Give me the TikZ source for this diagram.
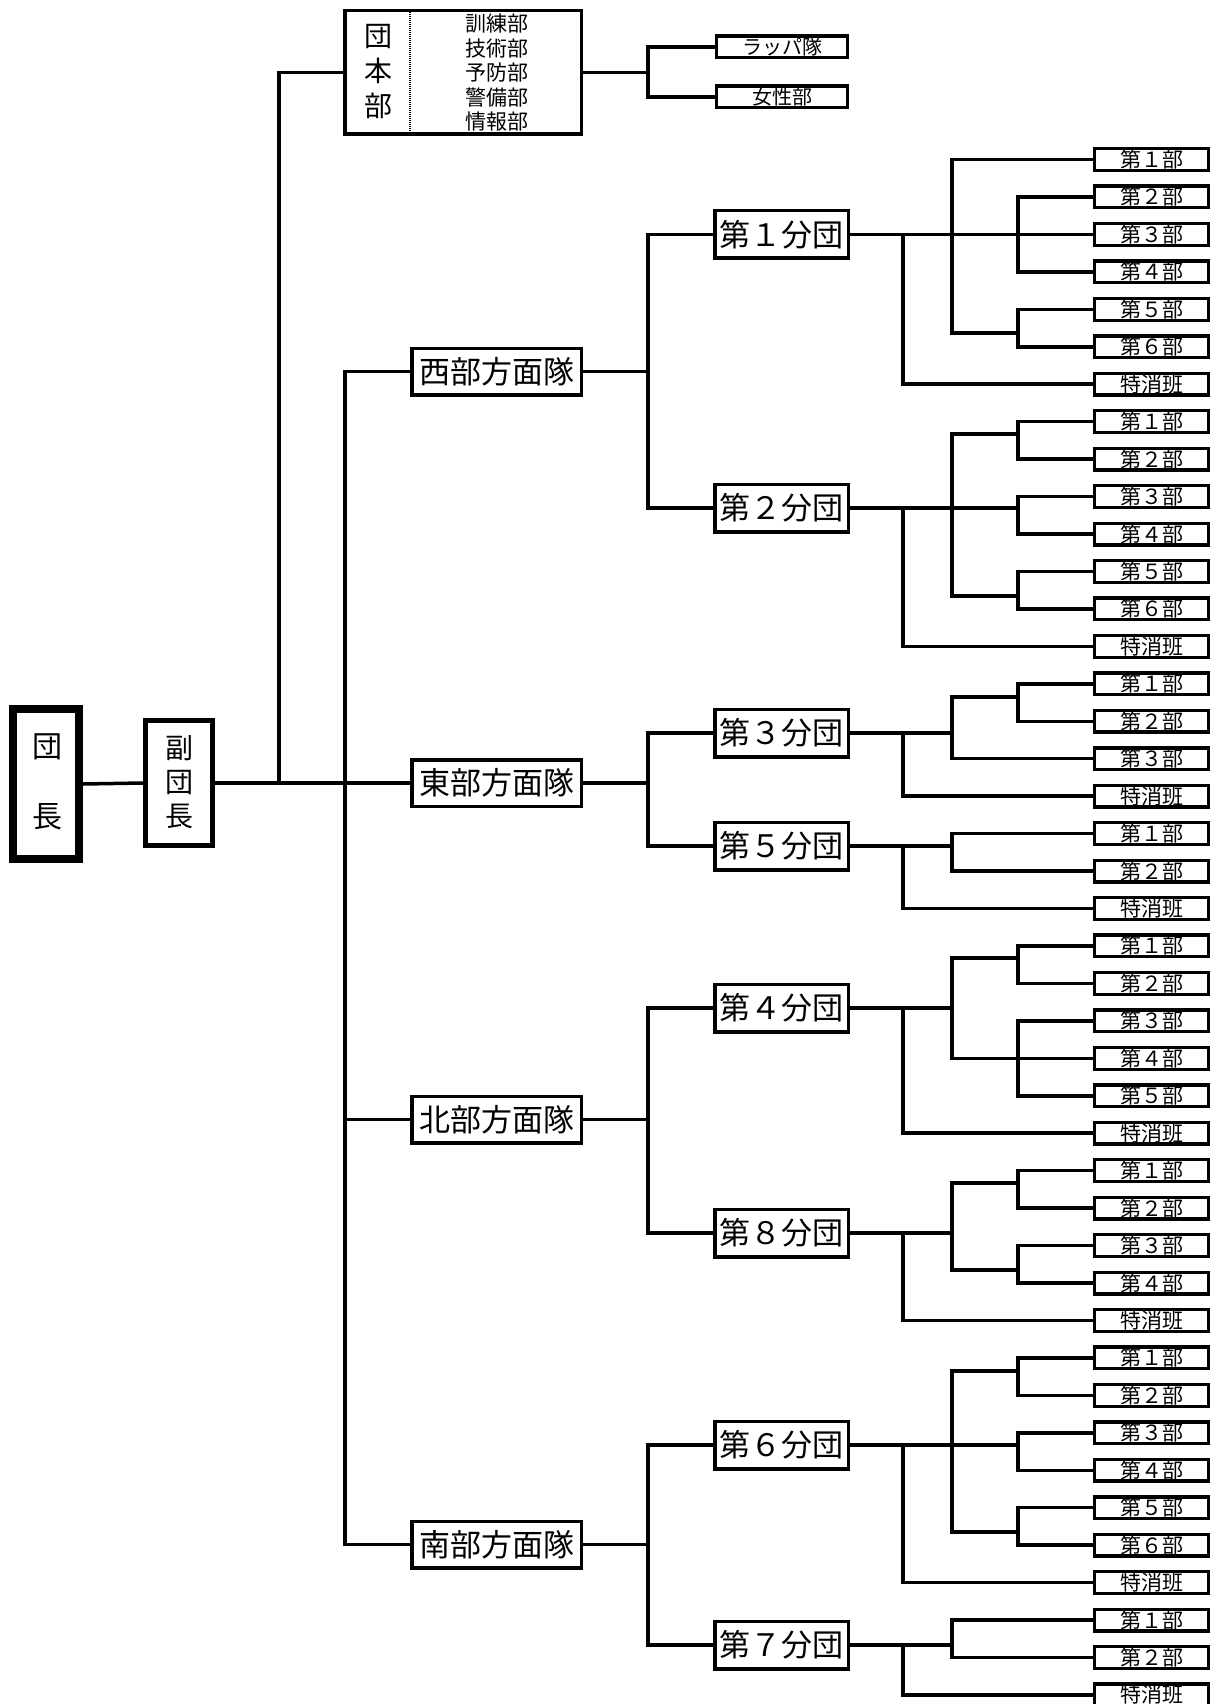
\documentclass[tikz,border=0pt]{standalone}
\usepackage{fontspec}
\setmainfont{Noto Sans CJK JP}
\begin{document}
\begin{tikzpicture}[x=1pt,y=-1pt,
  conn/.style={line width=3.5pt},
  leaf/.style={draw, line width=3.3pt, minimum width=113.7pt, minimum height=21.7pt, inner sep=0pt, font=\fontsize{21}{25}\selectfont},
  bunbox/.style={draw, line width=3.5pt, minimum width=133.5pt, minimum height=47.5pt, inner sep=0pt, font=\fontsize{31}{36}\selectfont},
  hobox/.style={draw, line width=3.5pt, minimum width=169.5pt, minimum height=46.5pt, inner sep=0pt, font=\fontsize{31}{36}\selectfont},
  smallbox/.style={draw, line width=3.3pt, minimum width=130.7pt, minimum height=21.7pt, inner sep=0pt, font=\fontsize{20}{24}\selectfont},
  plain/.style={inner sep=0pt, align=center}
]
\fill[white] (0,0) rectangle (1216,1704);
\useasboundingbox (0,0) rectangle (1216,1704);

% columns
\coordinate (c1) at (279,0);
\coordinate (c2) at (345,0);
\coordinate (cX) at (648,0);
\coordinate (cA) at (903,0);
\coordinate (cB) at (952,0);
\coordinate (cC) at (1018,0);

% top-level
\node[draw, line width=8pt, minimum width=66pt, minimum height=150pt, inner sep=0pt] (T) at (46,784) {};
\node[plain, font=\fontsize{30}{70}\selectfont] (Tt) at (47,782) {団\\長};
\node[draw, line width=5pt, minimum width=67pt, minimum height=125pt, inner sep=0pt] (V) at (179,783) {};
\node[plain, font=\fontsize{28}{34}\selectfont] (Vt) at (179,782) {副\\団\\長};

% headquarters
\node[draw, line width=3.5pt, minimum width=236.5pt, minimum height=123.5pt, inner sep=0pt] (HQ) at (463,72.5) {};
\node[plain, font=\fontsize{28}{35}\selectfont] (HQa) at (378,72) {団\\本\\部};
\node[plain, font=\fontsize{21}{24.5}\selectfont] (HQb) at (497,73) {訓練部\\技術部\\予防部\\警備部\\情報部};
\draw[line width=2pt, dash pattern=on 1pt off 1pt] (410,12.5) -- (410,132.5);
\node[smallbox] (R1) at (782,47) {ラッパ隊};
\node[smallbox] (R2) at (782,97) {女性部};

% area units
\node[hobox] (H1) at (496.5,371.5) {西部方面隊};
\node[hobox] (H2) at (496.5,783) {東部方面隊};
\node[hobox] (H3) at (496.5,1119.5) {北部方面隊};
\node[hobox] (H4) at (496.5,1544.5) {南部方面隊};

% branches
\node[bunbox] (D1) at (781.5,234.4) {第１分団};
\node[bunbox] (D2) at (781.5,508) {第２分団};
\node[bunbox] (D3) at (781.5,733) {第３分団};
\node[bunbox] (D5) at (781.5,846) {第５分団};
\node[bunbox] (D4) at (781.5,1008) {第４分団};
\node[bunbox] (D8) at (781.5,1233) {第８分団};
\node[bunbox] (D6) at (781.5,1445) {第６分団};
\node[bunbox] (D7) at (781.5,1645) {第７分団};

% leaves
\foreach \t [count=\i from 0] in {
  第１部,第２部,第３部,第４部,第５部,第６部,特消班,
  第１部,第２部,第３部,第４部,第５部,第６部,特消班,
  第１部,第２部,第３部,特消班,
  第１部,第２部,特消班,
  第１部,第２部,第３部,第４部,第５部,特消班,
  第１部,第２部,第３部,第４部,特消班,
  第１部,第２部,第３部,第４部,第５部,第６部,特消班,
  第１部,第２部,特消班}
  \node[leaf] (L\i) at (1151.5,{159.5+37.45*\i}) {\t};

% main connectors
\draw[conn] (T.east) -- (V.west);
\draw[conn] (V.east) -- (H2.west);
\draw[conn] (c1|-V.east) |- (HQ.west);
\draw[conn] (H1.west) -| (c2|-H4.west) -- (H4.west);
\draw[conn] (c2|-H3.west) -- (H3.west);
\draw[conn] (HQ.east) -- (cX|-HQ.east);
\draw[conn] (R1.west) -| (cX|-R2.west) -- (R2.west);

% area -> branch
\draw[conn] (H1.east) -- (cX|-H1.east);
\draw[conn] (D1.west) -| (cX|-D2.west) -- (D2.west);
\draw[conn] (H2.east) -- (cX|-H2.east);
\draw[conn] (D3.west) -| (cX|-D5.west) -- (D5.west);
\draw[conn] (H3.east) -- (cX|-H3.east);
\draw[conn] (D4.west) -| (cX|-D8.west) -- (D8.west);
\draw[conn] (H4.east) -- (cX|-H4.east);
\draw[conn] (D6.west) -| (cX|-D7.west) -- (D7.west);

% junction coordinates
\coordinate (j1) at (952,333);
\coordinate (j2a) at (952,434);
\coordinate (j2b) at (952,596);
\coordinate (j3) at (952,697);
\coordinate (j4) at (952,958);
\coordinate (j8a) at (952,1183);
\coordinate (j8b) at (952,1270);
\coordinate (j6a) at (952,1371);
\coordinate (j6b) at (952,1532);

% branch 1
\draw[conn] (D1.east) -- (L2.west);
\draw[conn] (cA|-D1.east) |- (L6.west);
\draw[conn] (L0.west) -| (j1) -- (cC|-j1);
\draw[conn] (L1.west) -| (cC|-L3.west) -- (L3.west);
\draw[conn] (L4.west) -| (cC|-L5.west) -- (L5.west);

% branch 2
\draw[conn] (D2.east) -- (cC|-D2.east);
\draw[conn] (cA|-D2.east) |- (L13.west);
\draw[conn] (cC|-j2a) -- (j2a) -- (j2b) -- (cC|-j2b);
\draw[conn] (L7.west) -| (cC|-L8.west) -- (L8.west);
\draw[conn] (L9.west) -| (cC|-L10.west) -- (L10.west);
\draw[conn] (L11.west) -| (cC|-L12.west) -- (L12.west);

% branch 3
\draw[conn] (D3.east) -- (cB|-D3.east);
\draw[conn] (cA|-D3.east) |- (L17.west);
\draw[conn] (cC|-j3) -- (j3) |- (L16.west);
\draw[conn] (L14.west) -| (cC|-L15.west) -- (L15.west);

% branch 5
\draw[conn] (D5.east) -- (cB|-D5.east);
\draw[conn] (cA|-D5.east) |- (L20.west);
\draw[conn] (L18.west) -| (cB|-L19.west) -- (L19.west);

% branch 4
\draw[conn] (D4.east) -- (cB|-D4.east);
\draw[conn] (cA|-D4.east) |- (L26.west);
\draw[conn] (cC|-j4) -- (j4) |- (L24.west);
\draw[conn] (L21.west) -| (cC|-L22.west) -- (L22.west);
\draw[conn] (L23.west) -| (cC|-L25.west) -- (L25.west);

% branch 8
\draw[conn] (D8.east) -- (cB|-D8.east);
\draw[conn] (cA|-D8.east) |- (L31.west);
\draw[conn] (cC|-j8a) -- (j8a) -- (j8b) -- (cC|-j8b);
\draw[conn] (L27.west) -| (cC|-L28.west) -- (L28.west);
\draw[conn] (L29.west) -| (cC|-L30.west) -- (L30.west);

% branch 6
\draw[conn] (D6.east) -- (cC|-D6.east);
\draw[conn] (cA|-D6.east) |- (L38.west);
\draw[conn] (cC|-j6a) -- (j6a) -- (j6b) -- (cC|-j6b);
\draw[conn] (L32.west) -| (cC|-L33.west) -- (L33.west);
\draw[conn] (L34.west) -| (cC|-L35.west) -- (L35.west);
\draw[conn] (L36.west) -| (cC|-L37.west) -- (L37.west);

% branch 7
\draw[conn] (D7.east) -- (cB|-D7.east);
\draw[conn] (cA|-D7.east) |- (L41.west);
\draw[conn] (L39.west) -| (cB|-L40.west) -- (L40.west);
\end{tikzpicture}
\end{document}
